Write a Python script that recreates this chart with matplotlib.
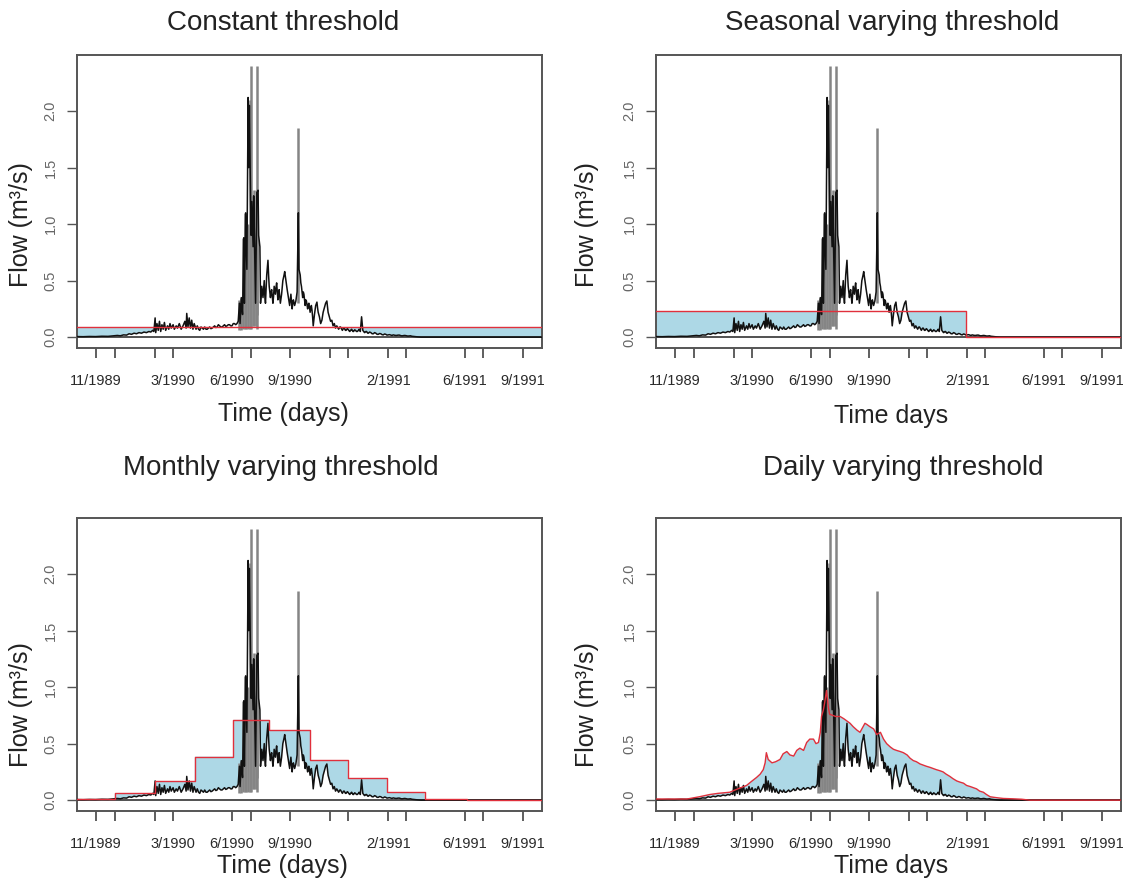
import numpy as np
import matplotlib
matplotlib.use("Agg")
import matplotlib.pyplot as plt

plt.rcParams['font.family'] = ['Liberation Sans', 'DejaVu Sans']

# ---------------- data (x = day index of the record) ----------------
flow_day = [0, 10, 20, 30, 40, 50, 60,
            65, 70, 75, 80, 84, 88, 92, 96, 100, 104, 108, 112, 116, 119, 122, 124,
            126, 127, 129, 131, 133, 135, 137, 139, 141, 143, 146, 148, 150, 152, 155, 157,
            160, 162, 165, 168, 171, 174, 176, 177, 179, 181, 183, 185, 187, 189,
            192, 194, 196, 198, 200, 202, 204, 206, 208, 210, 212, 214, 216, 218, 220, 222,
            224, 226, 228, 230, 232, 234, 236, 238, 240, 242, 244, 246, 248, 250, 252, 254,
            256, 258, 260,
            262, 263, 265, 267, 269, 270, 272, 274, 276, 277, 278, 280, 281, 282, 284, 285,
            287, 288, 290, 292, 293, 295, 296, 298, 300,
            301, 302, 303, 304, 306, 307, 308, 309, 310, 312, 313, 314, 316, 317, 318, 320,
            321, 322, 324, 325, 326, 328, 330, 331, 332, 334, 335, 337, 338, 339, 341, 343,
            344, 345, 347, 348, 349, 351, 353, 355, 357, 358, 360,
            361, 362, 364, 365, 366, 368, 369, 370, 372, 373, 374, 376, 378, 379, 380, 381,
            383, 385, 387, 388, 389, 391, 393, 395, 397, 399, 401, 403, 405, 406, 407, 409,
            411, 413, 415, 417, 419,
            421, 422, 424, 425, 427, 428, 430, 431, 433, 434, 436, 437, 439, 440, 442, 443,
            445, 446, 448, 449, 451, 452, 454, 455, 457, 459, 461, 463, 464, 466, 467, 469,
            470, 472, 474, 476, 478, 480, 482, 484, 486, 488, 490, 492, 494, 496, 498, 500,
            502, 504, 506, 508, 510, 513, 515, 518, 520, 523, 525, 528, 530, 533, 535, 538,
            540, 545, 550, 555, 750]
flow_val = [0.005, 0.004, 0.006, 0.005, 0.008, 0.007, 0.012,
            0.015, 0.012, 0.02, 0.018, 0.03, 0.025, 0.035, 0.03, 0.04, 0.035, 0.045, 0.04, 0.05, 0.045, 0.06, 0.05,
            0.17, 0.04, 0.12, 0.06, 0.14, 0.05, 0.11, 0.07, 0.13, 0.06, 0.10, 0.07, 0.12, 0.08, 0.11, 0.07,
            0.10, 0.08, 0.12, 0.07, 0.10, 0.14, 0.08, 0.21, 0.09, 0.17, 0.08, 0.15, 0.07, 0.12,
            0.07, 0.10, 0.07, 0.06, 0.09, 0.08, 0.07, 0.09, 0.07, 0.07, 0.08, 0.09, 0.075, 0.08, 0.09, 0.10,
            0.085, 0.09, 0.11, 0.10, 0.09, 0.09, 0.10, 0.11, 0.095, 0.10, 0.11, 0.11, 0.10, 0.10, 0.12, 0.12,
            0.11, 0.12, 0.14,
            0.30, 0.12, 0.35, 0.20, 0.88, 0.30, 1.10, 0.60, 2.12, 1.50, 2.05, 1.20, 0.90, 1.20, 0.80, 1.25,
            0.60, 0.30, 1.28, 1.30, 0.90, 0.80, 0.30, 0.45, 0.35,
            0.42, 0.50, 0.36, 0.30, 0.55, 0.62, 0.68, 0.55, 0.45, 0.35, 0.40, 0.42, 0.30, 0.36, 0.45, 0.38,
            0.44, 0.48, 0.33, 0.37, 0.42, 0.30, 0.38, 0.44, 0.50, 0.55, 0.58, 0.50, 0.46, 0.42, 0.35, 0.28,
            0.33, 0.38, 0.25, 0.30, 0.33, 0.28, 0.32, 0.40, 1.10, 0.60, 0.55,
            0.48, 0.45, 0.35, 0.40, 0.38, 0.28, 0.33, 0.32, 0.25, 0.29, 0.30, 0.22, 0.28, 0.24, 0.18, 0.10,
            0.20, 0.28, 0.31, 0.26, 0.22, 0.18, 0.12, 0.15, 0.22, 0.26, 0.30, 0.32, 0.22, 0.20, 0.18, 0.14,
            0.15, 0.10, 0.12, 0.08, 0.10,
            0.08, 0.07, 0.09, 0.09, 0.07, 0.06, 0.08, 0.08, 0.06, 0.06, 0.075, 0.07, 0.055, 0.05, 0.065, 0.07,
            0.05, 0.05, 0.065, 0.06, 0.05, 0.05, 0.06, 0.07, 0.05, 0.18, 0.06, 0.045, 0.04, 0.05, 0.05, 0.035,
            0.035, 0.045, 0.04, 0.03, 0.03, 0.04, 0.035, 0.025, 0.025, 0.032, 0.03, 0.022, 0.02, 0.028, 0.025, 0.018,
            0.02, 0.022, 0.018, 0.015, 0.02, 0.016, 0.015, 0.018, 0.018, 0.012, 0.012, 0.015, 0.014, 0.01, 0.01, 0.012,
            0.008, 0.005, 0.002, 0.0, 0.0]

# spikes drawn in grey
spike_day = [262, 265, 268, 271, 273, 275, 279, 280, 284, 286, 288, 290, 291, 357]
spike_lo = [0.06, 0.06, 0.07, 0.07, 0.07, 0.07, 0.07, 0.07, 0.10, 0.10, 0.10, 0.07, 0.20, 0.30]
spike_hi = [0.33, 0.35, 0.88, 1.10, 1.05, 1.00, 2.10, 2.40, 1.25, 1.30, 0.80, 2.40, 1.28, 1.85]

# thresholds
const_thr = 0.09
season_edges = [0, 500, 750]
season_vals = [0.23, 0.003]
month_edges = [0, 61, 126, 190, 252, 310, 376, 437, 500, 561, 629, 750]
month_vals = [0.01, 0.06, 0.165, 0.385, 0.71, 0.62, 0.355, 0.195, 0.068, 0.01, 0.0]
daily_day = [0, 50, 70, 87, 100, 119, 132, 146, 155, 162,
             168, 173, 176, 178, 181, 187, 193, 200, 205, 211,
             216, 222, 227, 232, 238, 243, 248, 254, 258, 262,
             265, 267, 270, 272, 275, 278, 280, 285, 290, 297,
             303, 308, 313, 318, 324, 329, 333, 337, 340, 345,
             351, 356, 362, 367, 372, 378, 383, 388, 394, 399,
             405, 410, 415, 420, 426, 431, 436, 442, 447, 452,
             458, 463, 468, 474, 479, 485, 490, 496, 501, 507,
             512, 517, 522, 528, 533, 539, 545, 552, 560, 575,
             590, 603, 750]
daily_val = [0.01, 0.01, 0.03, 0.05, 0.06, 0.07, 0.10, 0.13, 0.17, 0.20,
             0.23, 0.27, 0.33, 0.42, 0.36, 0.33, 0.34, 0.36, 0.41, 0.43,
             0.40, 0.39, 0.44, 0.46, 0.44, 0.51, 0.54, 0.54, 0.50, 0.51,
             0.60, 0.74, 0.80, 0.86, 0.97, 0.82, 0.76, 0.75, 0.74, 0.74,
             0.72, 0.70, 0.68, 0.65, 0.62, 0.60, 0.64, 0.68, 0.67, 0.65,
             0.63, 0.58, 0.60, 0.54, 0.50, 0.47, 0.45, 0.44, 0.43, 0.42,
             0.40, 0.37, 0.35, 0.34, 0.32, 0.31, 0.30, 0.29, 0.28, 0.27,
             0.26, 0.25, 0.23, 0.21, 0.19, 0.17, 0.16, 0.15, 0.13, 0.12,
             0.11, 0.10, 0.08, 0.07, 0.05, 0.03, 0.025, 0.02, 0.015, 0.012,
             0.008, 0.0, 0.0]

tick_days = [31, 61, 126, 155, 250, 281, 344, 408, 437, 502, 531, 626, 655, 719]
label_days = [31, 155, 250, 344, 502, 626, 719]
label_text = ['11/1989', '3/1990', '6/1990', '9/1990', '2/1991', '6/1991', '9/1991']
y_ticks = [0.0, 0.5, 1.0, 1.5, 2.0]

titles = ['Constant threshold', 'Seasonal varying threshold',
          'Monthly varying threshold', 'Daily varying threshold']
xlabels = ['Time (days)', 'Time days', 'Time (days)', 'Time days']

# ---------------- figure ----------------
W, H = 1128, 881
fig = plt.figure(figsize=(W / 100, H / 100), dpi=100)

boxes = [(77, 542, 55, 348), (656, 1121, 55, 348), (77, 542, 518, 811), (656, 1121, 518, 811)]
title_pos = [(283, 23), (892, 23), (281, 468), (903, 468)]
xlab_pos = [(283, 414), (891, 416), (282, 866), (891, 866)]
ylab_pos = [(21, 225), (587, 225), (21, 705), (587, 705)]

grid = np.arange(0, 750.01, 0.25)
fd = np.array(flow_day, float)
fv = np.array(flow_val, float)
flow_g = np.interp(grid, fd, fv)


def step_eval(edges, vals, x):
    idx = np.searchsorted(np.array(edges[1:-1]), x, side='right')
    return np.array(vals)[idx]


thr_grid = [
    np.full_like(grid, const_thr),
    step_eval(season_edges, season_vals, grid),
    step_eval(month_edges, month_vals, grid),
    np.interp(grid, daily_day, daily_val),
]

RED = '#e0303c'
for i, (x0, x1, y0, y1) in enumerate(boxes):
    ax = fig.add_axes([x0 / W, 1 - y1 / H, (x1 - x0) / W, (y1 - y0) / H])
    thr = thr_grid[i]
    ax.fill_between(grid, flow_g, thr, where=flow_g < thr, interpolate=True,
                    color='#add8e6', lw=0, zorder=1)
    ax.axhline(0, color='#222222', lw=1.1, zorder=2)
    ax.vlines(spike_day, spike_lo, spike_hi, color='#858585', lw=1.8, zorder=3)
    ax.plot(fd, fv, color='#111111', lw=1.1, zorder=4)
    # threshold line
    if i == 0:
        ax.plot([0, 750], [const_thr, const_thr], color=RED, lw=1.0, zorder=5)
    elif i == 1:
        ax.step(season_edges, season_vals + [season_vals[-1]], where='post', color=RED, lw=1.0, zorder=5)
    elif i == 2:
        ax.step(month_edges, month_vals + [month_vals[-1]], where='post', color=RED, lw=1.0, zorder=5)
    else:
        ax.plot(daily_day, daily_val, color=RED, lw=1.0, zorder=5)

    ax.set_xlim(0, 750)
    ax.set_ylim(-0.096, 2.496)
    ax.set_xticks(tick_days)
    ax.set_xticklabels([label_text[label_days.index(d)] if d in label_days else '' for d in tick_days])
    ax.set_yticks(y_ticks)
    ax.set_yticklabels(['%.1f' % v for v in y_ticks], rotation=90, va='center')
    ax.tick_params(axis='x', direction='out', length=7, width=1.1, color='#333333',
                   labelsize=10.5, labelcolor='#2a2a2a', pad=12)
    ax.tick_params(axis='y', direction='out', length=7, width=1.0, color='#555555',
                   labelsize=10.5, labelcolor='#666666', pad=7)
    for s in ax.spines.values():
        s.set_color('#555555')
        s.set_linewidth(1.4)

    tx, ty = title_pos[i]
    fig.text(tx / W, 1 - ty / H, titles[i], ha='center', va='center', fontsize=20, color='#222222')
    lx, ly = xlab_pos[i]
    fig.text(lx / W, 1 - ly / H, xlabels[i], ha='center', va='center', fontsize=18, color='#222222')
    yx, yy = ylab_pos[i]
    fig.text(yx / W, 1 - yy / H, 'Flow (m³/s)', ha='center', va='center', rotation=90,
             fontsize=18, color='#222222')

fig.savefig('out.png', dpi=100)
